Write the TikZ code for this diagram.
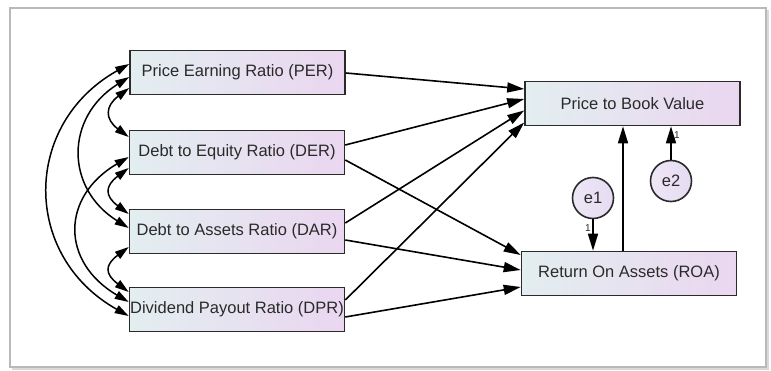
\documentclass[tikz,border=0pt]{standalone}
\usepackage{fontspec}
\setmainfont{Liberation Sans}
\usetikzlibrary{arrows.meta,calc}
\definecolor{shadeL}{HTML}{E3EEF0}
\definecolor{shadeR}{HTML}{EAD6F0}
\definecolor{ringfill}{HTML}{E6DCF2}
\definecolor{ink}{HTML}{2A2A2A}
\tikzset{
  varbox/.style={draw=ink, line width=1.6pt, left color=shadeL, right color=shadeR,
    minimum width=215pt, minimum height=44pt, inner sep=0pt,
    font=\fontsize{16.5}{18}\selectfont, text=ink},
  errnode/.style={circle, draw=ink, line width=1.6pt, left color=ringfill!70!white, right color=ringfill,
    minimum size=41pt, inner sep=0pt, font=\fontsize{16.5}{18}\selectfont, text=ink},
  path/.style={line width=1.6pt, draw=black, -{Triangle[length=17pt,width=10pt]}},
  cov/.style={line width=1.5pt, draw=black, {Triangle[length=14pt,width=8.5pt]}-{Triangle[length=14pt,width=8.5pt]}},
  wlabel/.style={font=\fontsize{10}{11}\selectfont, text=ink, inner sep=0pt}
}
\begin{document}
\begin{tikzpicture}[x=1pt,y=-1pt]
  % canvas and framed panel
  \useasboundingbox (0,0) rectangle (771,371);
  \fill[white] (0,0) rectangle (771,371);
  \fill[gray!30] (12,10) rectangle (769,370);
  \filldraw[fill=white, draw=gray!55, line width=1.2pt] (10,8) rectangle (766,367);

  % observed exogenous variables
  \node[varbox] (per) at (237.5,72.5) {Price Earning Ratio (PER)};
  \node[varbox] (der) at (237,152.5) {Debt to Equity Ratio (DER)};
  \node[varbox] (dar) at (237,231.5) {Debt to Assets Ratio (DAR)};
  \node[varbox] (dpr) at (237,309.5) {Dividend Payout Ratio (DPR)};

  % endogenous variables
  \node[varbox] (pbv) at (632.5,103.5) {Price to Book Value};
  \node[varbox] (roa) at (629,273.5) {Return On Assets (ROA)};

  % error terms
  \node[errnode] (e1) at (593,198) {e1};
  \node[errnode] (e2) at (671,181) {e2};

  % regression paths
  \draw[path] ($(per.east)+(0,0.5)$) -- ($(pbv.west)+(0,-14.5)$);
  \draw[path] ($(der.east)+(0,-7.5)$) -- ($(pbv.west)+(0,-4.5)$);
  \draw[path] ($(der.east)+(0,7.5)$) -- ($(roa.west)+(0,-18.5)$);
  \draw[path] ($(dar.east)+(0,-8.5)$) -- ($(pbv.west)+(0,7)$);
  \draw[path] ($(dar.east)+(0,8.5)$) -- ($(roa.west)+(0,-3.5)$);
  \draw[path] ($(dpr.east)+(0,-9.5)$) -- ($(pbv.west)+(0,19)$);
  \draw[path] ($(dpr.east)+(0,7.5)$) -- ($(roa.west)+(0,13.5)$);
  \coordinate (rtop) at ($(roa.north)+(-6,0)$);
  \draw[path] (rtop) -- (rtop |- pbv.south);

  % error paths with fixed weights
  \draw[path] (e1.south) -- (e1.south |- roa.north);
  \draw[path] (e2.north) -- (e2.north |- pbv.south);
  \node[wlabel] (w1) at ($(e1.south)+(-5,9)$) {1};
  \node[wlabel] (w2) at ($(e2.north)+(6,-25)$) {1};

  % covariances among exogenous variables
  \draw[cov] ($(per.west)+(0,15.5)$) .. controls +(-24,18) and +(-24,-18) .. ($(der.west)+(0,-15.5)$);
  \draw[cov] ($(der.west)+(0,15.5)$) .. controls +(-24,18) and +(-24,-18) .. ($(dar.west)+(0,-17.5)$);
  \draw[cov] ($(dar.west)+(0,15.5)$) .. controls +(-24,18) and +(-24,-18) .. ($(dpr.west)+(0,-17.5)$);
  \draw[cov] ($(per.west)+(0,4.5)$) .. controls +(-64,40) and +(-64,-40) .. ($(dar.west)+(0,-3.5)$);
  \draw[cov] ($(der.west)+(0,4.5)$) .. controls +(-68,40) and +(-68,-40) .. ($(dpr.west)+(0,-7.5)$);
  \draw[cov] ($(per.west)+(0,-8.5)$) .. controls +(-107,60) and +(-107,-60) .. ($(dpr.west)+(0,6.5)$);
\end{tikzpicture}
\end{document}
